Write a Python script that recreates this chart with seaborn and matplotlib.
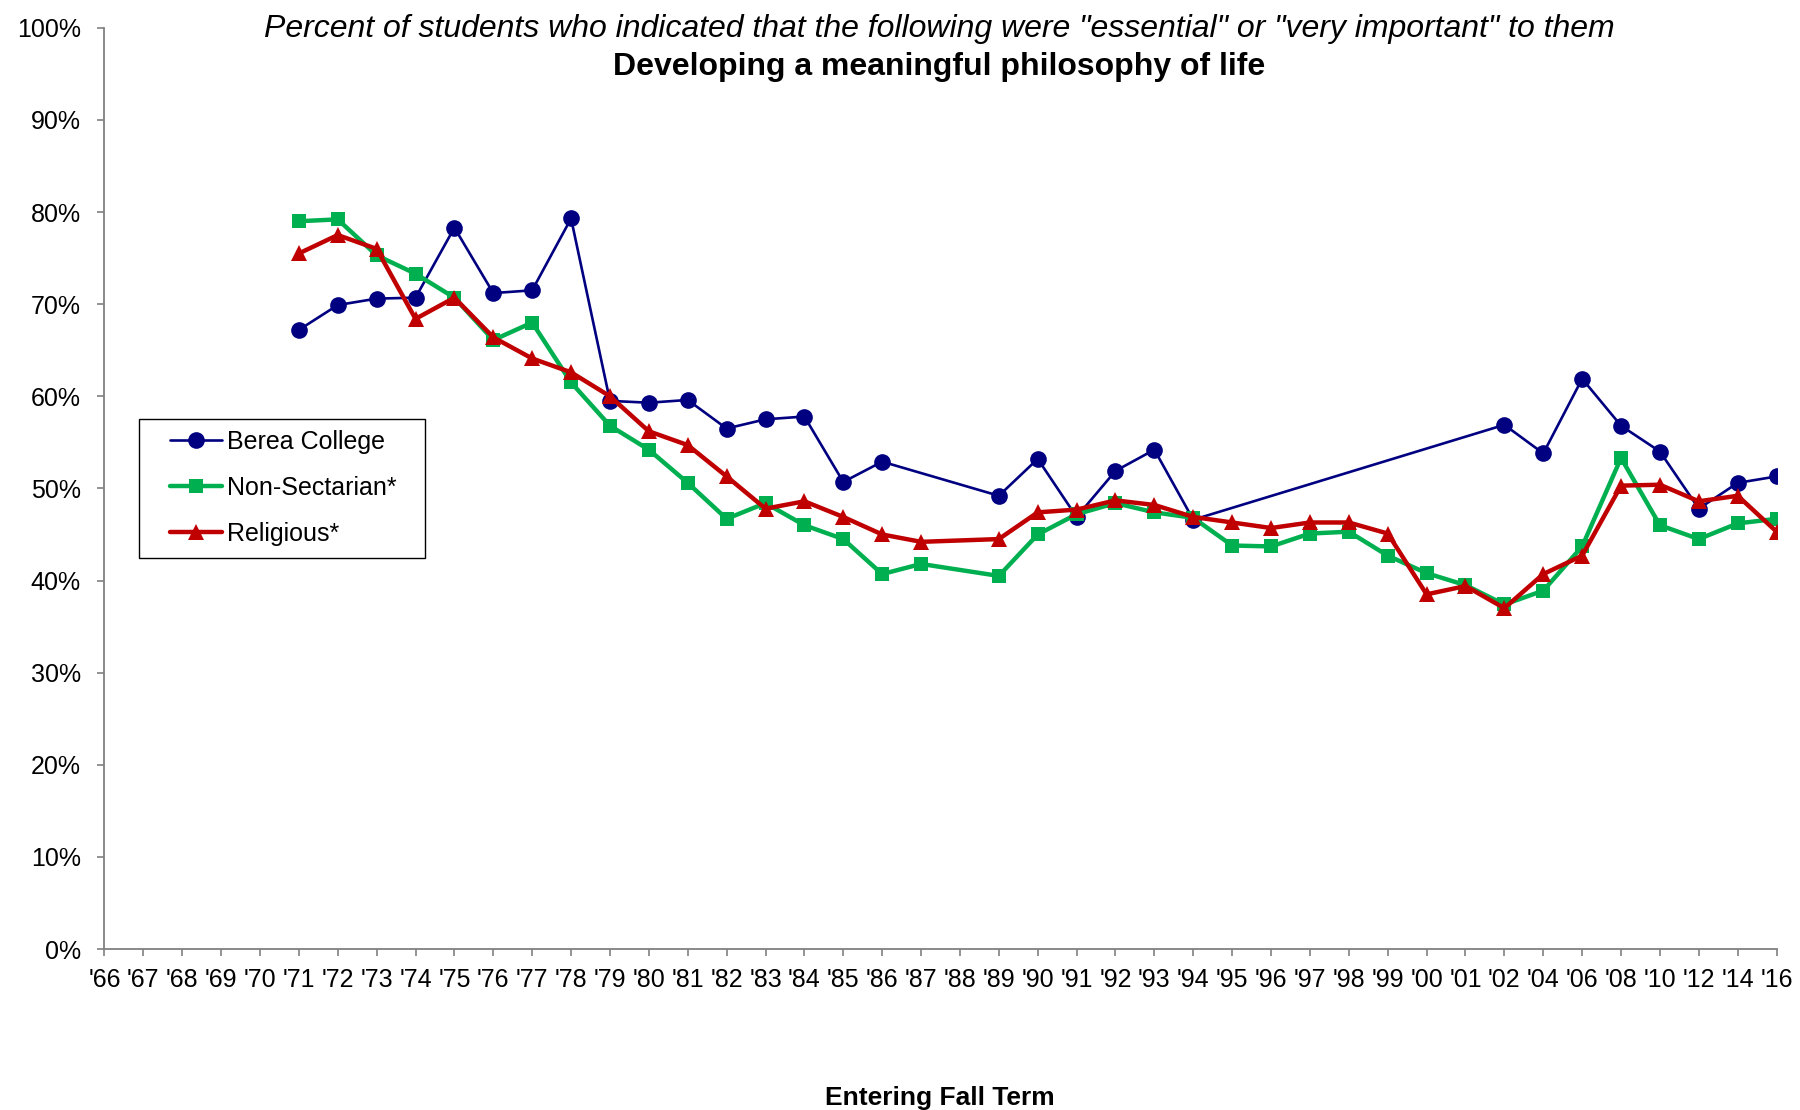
import numpy as np
import pandas as pd
import matplotlib
matplotlib.use("Agg")
import matplotlib.pyplot as plt
from matplotlib.patches import Rectangle
import seaborn as sns

# --- data ---
years = ["'%02d" % y for y in range(66, 100)] + ["'00", "'01", "'02", "'04", "'06", "'08",
                                                  "'10", "'12", "'14", "'16"]

nan = np.nan
berea = [nan] * 5 + [67.2, 69.9, 70.6, 70.7, 78.3, 71.2, 71.5, 79.3, 59.5, 59.3, 59.6, 56.5,
                     57.5, 57.8, 50.7, 52.9] + [nan, nan] + \
        [49.2, 53.2, 46.9, 51.9, 54.2, 46.6] + [nan] * 7 + \
        [56.9, 53.8, 61.9, 56.8, 54.0, 47.8, 50.6, 51.3]
non_sectarian = [nan] * 5 + [79.0, 79.2, 75.3, 73.3, 70.7, 66.1, 68.0, 61.5, 56.8, 54.2, 50.6,
                             46.7, 48.4, 46.0, 44.5, 40.7, 41.8] + [nan] + \
                [40.5, 45.0, 47.2, 48.4, 47.4, 46.8, 43.8, 43.7, 45.1, 45.3, 42.7,
                 40.8, 39.5, 37.4, 38.9, 43.7, 53.3, 46.0, 44.5, 46.2, 46.7]
religious = [nan] * 5 + [75.5, 77.5, 76.0, 68.4, 70.7, 66.4, 64.1, 62.6, 60.0, 56.2, 54.7,
                         51.3, 47.8, 48.6, 46.9, 45.0, 44.2] + [nan] + \
            [44.5, 47.4, 47.7, 48.7, 48.2, 46.9, 46.3, 45.7, 46.3, 46.3, 45.1,
             38.5, 39.4, 37.0, 40.7, 42.7, 50.3, 50.4, 48.6, 49.2, 45.3]

series_names = ["Berea College", "Non-Sectarian*", "Religious*"]
series_values = [berea, non_sectarian, religious]

# --- style ---
sns.set_theme(style="white")
plt.rcParams["font.family"] = ["Liberation Sans", "DejaVu Sans"]
plt.rcParams["text.color"] = "black"
plt.rcParams["xtick.labelcolor"] = "black"
plt.rcParams["ytick.labelcolor"] = "black"

styles = {
    "Berea College": dict(color="#000080", marker="o", linewidth=1.9, markersize=12),
    "Non-Sectarian*": dict(color="#00B050", marker="s", linewidth=3.2, markersize=10.5),
    "Religious*": dict(color="#C00000", marker="^", linewidth=3.2, markersize=12),
}

fig = plt.figure(figsize=(18, 11.1), dpi=100)
ax = fig.add_axes([0.058, 0.145, 0.929, 0.830])

for name, vals in zip(series_names, series_values):
    df = pd.DataFrame({"pos": np.arange(len(years)), "value": vals}).dropna()
    st = styles[name]
    sns.lineplot(data=df, x="pos", y="value", ax=ax, color=st["color"], marker=st["marker"],
                 linewidth=st["linewidth"], markersize=st["markersize"],
                 markeredgewidth=0, label=name)

ax.set_xlim(0, len(years) - 1)
ax.set_ylim(0, 100)
ax.set_xticks(np.arange(len(years)))
ax.set_xticklabels(years, fontsize=18)
ax.set_yticks(np.arange(0, 101, 10))
ax.set_yticklabels([f"{v}%" for v in range(0, 101, 10)], fontsize=18)
ax.set_xlabel("")
ax.set_ylabel("")

for side in ["top", "right"]:
    ax.spines[side].set_visible(False)
for side in ["left", "bottom"]:
    ax.spines[side].set_color("#808080")
    ax.spines[side].set_linewidth(1.3)
ax.tick_params(axis="both", which="major", direction="out", length=5, width=1.2,
               color="#808080", bottom=True, left=True)
ax.tick_params(axis="x", pad=9)
ax.tick_params(axis="y", pad=12)

# legend: content without frame, box drawn as in the original
leg = ax.legend(loc="center left", bbox_to_anchor=(0.0394, 0.5005), fontsize=18,
                frameon=False, borderpad=0, borderaxespad=0,
                handlelength=2.08, labelspacing=0.89, handletextpad=0.2)
ax.add_patch(Rectangle((0.0209, 0.4245), 0.171, 0.151, transform=ax.transAxes,
                       fill=False, edgecolor="black", linewidth=1.0, zorder=5))

fig.text(0.522, 0.974, 'Percent of students who indicated that the following were "essential" or '
         '"very important" to them', ha="center", va="center", fontsize=23, style="italic")
fig.text(0.522, 0.940, "Developing a meaningful philosophy of life", ha="center", va="center",
         fontsize=23, weight="bold")
fig.text(0.522, 0.011, "Entering Fall Term", ha="center", va="center", fontsize=19,
         weight="bold")

fig.savefig("out.png", dpi=100)
